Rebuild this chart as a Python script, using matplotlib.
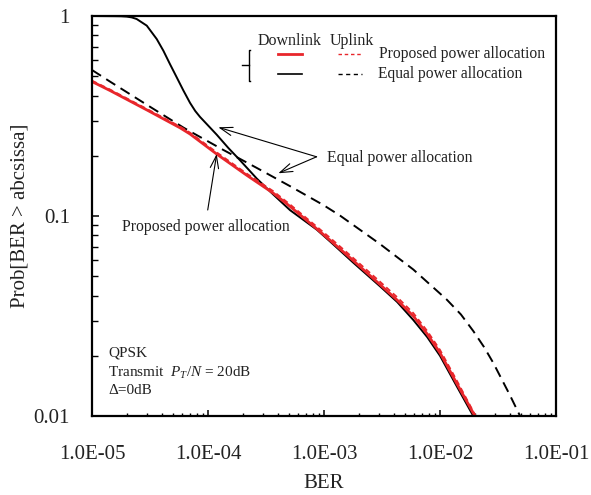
import matplotlib
matplotlib.use("Agg")
import matplotlib.pyplot as plt
from matplotlib.lines import Line2D
from matplotlib.ticker import FixedLocator, FixedFormatter, LogLocator, NullFormatter

plt.rcParams['font.family'] = ['Liberation Serif', 'DejaVu Serif']
plt.rcParams['mathtext.fontset'] = 'custom'
plt.rcParams['mathtext.rm'] = 'Liberation Serif'
plt.rcParams['mathtext.it'] = 'Liberation Serif:italic'

# ---- data (BER, Prob[BER > abscissa]) ----
dl_equal_x = [1.0e-5, 1.585e-5, 1.778e-5, 1.995e-5, 2.2e-5, 2.427e-5, 2.965e-5, 3.614e-5, 4.121e-5,
              4.699e-5, 5.370e-5, 6.124e-5, 6.998e-5, 7.762e-5, 8.531e-5, 1.040e-4, 1.189e-4,
              1.496e-4, 1.888e-4, 2.630e-4, 3.656e-4, 5.093e-4, 8.650e-4, 1.127e-3, 1.778e-3,
              3.041e-3, 4.266e-3, 5.888e-3, 7.762e-3, 1.0e-2, 1.393e-2, 1.936e-2]
dl_equal_y = [1.0, 0.998, 0.997, 0.993, 0.984, 0.966, 0.895, 0.767, 0.671,
              0.575, 0.494, 0.425, 0.368, 0.335, 0.313, 0.277, 0.255,
              0.219, 0.190, 0.154, 0.128, 0.107, 0.0855, 0.0746, 0.0586,
              0.0445, 0.0372, 0.0302, 0.0248, 0.0200, 0.0141, 0.0100]

dl_prop_x = [1.0e-5, 1.429e-5, 3.0e-5, 5.74e-5, 7.0e-5, 1.189e-4, 2.153e-4, 3.656e-4,
             5.093e-4, 8.650e-4, 1.127e-3, 1.778e-3, 3.041e-3, 4.266e-3, 5.888e-3,
             7.762e-3, 1.0e-2, 1.39e-2, 2.0e-2]
dl_prop_y = [0.470, 0.424, 0.338, 0.276, 0.257, 0.204, 0.160, 0.130,
             0.1117, 0.0863, 0.0757, 0.0600, 0.0454, 0.0380, 0.0316,
             0.0257, 0.0207, 0.0146, 0.0100]

ul_prop_x = [1.0e-5, 1.429e-5, 3.0e-5, 5.74e-5, 7.0e-5, 1.189e-4, 2.153e-4, 3.656e-4,
             5.093e-4, 8.650e-4, 1.127e-3, 1.778e-3, 3.041e-3, 4.266e-3, 5.888e-3,
             7.762e-3, 1.0e-2, 1.39e-2, 2.03e-2]
ul_prop_y = [0.475, 0.429, 0.342, 0.280, 0.261, 0.208, 0.163, 0.133,
             0.1142, 0.0885, 0.0778, 0.0618, 0.0469, 0.0393, 0.0327,
             0.0266, 0.0214, 0.0151, 0.0100]

ul_equal_x = [1.0e-5, 1.429e-5, 2.965e-5, 6.124e-5, 6.998e-5, 1.355e-4, 1.888e-4, 2.630e-4,
              5.093e-4, 9.863e-4, 1.374e-3, 3.041e-3, 5.888e-3, 1.143e-2, 1.514e-2, 1.936e-2,
              2.399e-2, 2.884e-2, 4.009e-2, 4.9e-2]
ul_equal_y = [0.537, 0.470, 0.360, 0.277, 0.265, 0.214, 0.193, 0.174,
              0.141, 0.1135, 0.1005, 0.0724, 0.0540, 0.0382, 0.0322, 0.0266,
              0.0221, 0.0184, 0.0127, 0.0100]

x_ticks = [1e-5, 1e-4, 1e-3, 1e-2, 1e-1]
x_ticklabels = ["1.0E-05", "1.0E-04", "1.0E-03", "1.0E-02", "1.0E-01"]
y_ticks = [0.01, 0.1, 1]
y_ticklabels = ["0.01", "0.1", "1"]

RED = '#e8262b'
TXT = '#222222'

fig = plt.figure(figsize=(5.91, 4.95), dpi=100)
ax = fig.add_axes([92/591, 1-416/495, (556-92)/591, (416-16)/495])
ax.set_xscale('log')
ax.set_yscale('log')
ax.set_xlim(1e-5, 1e-1)
ax.set_ylim(0.01, 1)

ax.plot(dl_equal_x, dl_equal_y, color='black', lw=1.4, solid_joinstyle='round')
ax.plot(ul_equal_x, ul_equal_y, color='black', lw=1.4, dashes=(5.5, 3.2))
ax.plot(dl_prop_x, dl_prop_y, color=RED, lw=2.0, solid_joinstyle='round')
ax.plot(ul_prop_x, ul_prop_y, color=RED, lw=1.3, dashes=(3, 2))

ax.xaxis.set_major_locator(FixedLocator(x_ticks))
ax.xaxis.set_major_formatter(FixedFormatter(x_ticklabels))
ax.xaxis.set_minor_locator(LogLocator(base=10, subs=range(2, 10)))
ax.xaxis.set_minor_formatter(NullFormatter())
ax.yaxis.set_major_locator(FixedLocator(y_ticks))
ax.yaxis.set_major_formatter(FixedFormatter(y_ticklabels))
ax.yaxis.set_minor_locator(LogLocator(base=10, subs=range(2, 10)))
ax.yaxis.set_minor_formatter(NullFormatter())

ax.tick_params(axis='x', which='major', direction='in', length=4.5, width=1.1,
               labelsize=15, pad=21, labelcolor=TXT, top=False)
ax.tick_params(axis='x', which='minor', direction='in', length=2.3, width=1.0, top=False)
ax.tick_params(axis='y', which='major', direction='in', length=5.2, width=1.1,
               labelsize=15, pad=16, labelcolor=TXT, right=False)
ax.tick_params(axis='y', which='minor', direction='in', length=4.6, width=1.0, right=False)
for s in ax.spines.values():
    s.set_linewidth(1.6)

ax.set_xlabel("BER", fontsize=15, color=TXT)
ax.set_ylabel("Prob[BER > abcsissa]", fontsize=15, color=TXT)
ax.xaxis.set_label_coords(0.5, -0.145)
ax.yaxis.set_label_coords(-0.135, 0.5)

# legend (drawn manually)
tr = ax.transAxes
ax.text(0.3578, 0.938, "Downlink", transform=tr, fontsize=11.5, color=TXT, va='center')
ax.text(0.513, 0.938, "Uplink", transform=tr, fontsize=11.5, color=TXT, va='center')
ax.add_line(Line2D([0.4009, 0.4526], [0.904, 0.904], transform=tr, color=RED, lw=2.0))
ax.add_line(Line2D([0.530, 0.582], [0.904, 0.904], transform=tr, color=RED, lw=1.0, dashes=(2.5, 2)))
ax.add_line(Line2D([0.4009, 0.4526], [0.855, 0.855], transform=tr, color='black', lw=1.2))
ax.add_line(Line2D([0.530, 0.582], [0.855, 0.855], transform=tr, color='black', lw=1.0, dashes=(3, 2.5)))
ax.text(0.6185, 0.905, "Proposed power allocation", transform=tr, fontsize=11.2, color=TXT, va='center')
ax.text(0.616, 0.855, "Equal power allocation", transform=tr, fontsize=11.2, color=TXT, va='center')
# brace
ax.add_line(Line2D([0.3405, 0.3377, 0.3377, 0.3405], [0.915, 0.915, 0.838, 0.838],
                   transform=tr, color='black', lw=1.0))
ax.add_line(Line2D([0.3226, 0.3377], [0.8775, 0.8775], transform=tr, color='black', lw=1.0))

# annotations
arrow = dict(arrowstyle='->,head_length=0.9,head_width=0.3', color='black', lw=0.8,
             shrinkA=0, shrinkB=0)
ax.text(0.5065, 0.644, "Equal power allocation", transform=tr, fontsize=11.3,
        color=TXT, va='center')
ax.annotate("", xy=(0.2722, 0.7218), xytext=(0.484, 0.648), xycoords=tr,
            textcoords=tr, arrowprops=arrow)
ax.annotate("", xy=(0.4015, 0.6068), xytext=(0.484, 0.648), xycoords=tr,
            textcoords=tr, arrowprops=arrow)
ax.text(0.064, 0.4733, "Proposed power allocation", transform=tr, fontsize=11.3,
        color=TXT, va='center')
ax.annotate("", xy=(0.2687, 0.655), xytext=(0.2494, 0.515), xycoords=tr,
            textcoords=tr, arrowprops=arrow)

# condition text
ax.text(0.0345, 0.1575, "QPSK", transform=tr, fontsize=11, color=TXT, va='center')
ax.text(0.0345, 0.1075, "Transmit  $P_T/N$ = 20dB", transform=tr, fontsize=11,
        color=TXT, va='center')
ax.text(0.0345, 0.065, "Δ=0dB", transform=tr, fontsize=11, color=TXT, va='center')

fig.savefig("out.png", dpi=100)
